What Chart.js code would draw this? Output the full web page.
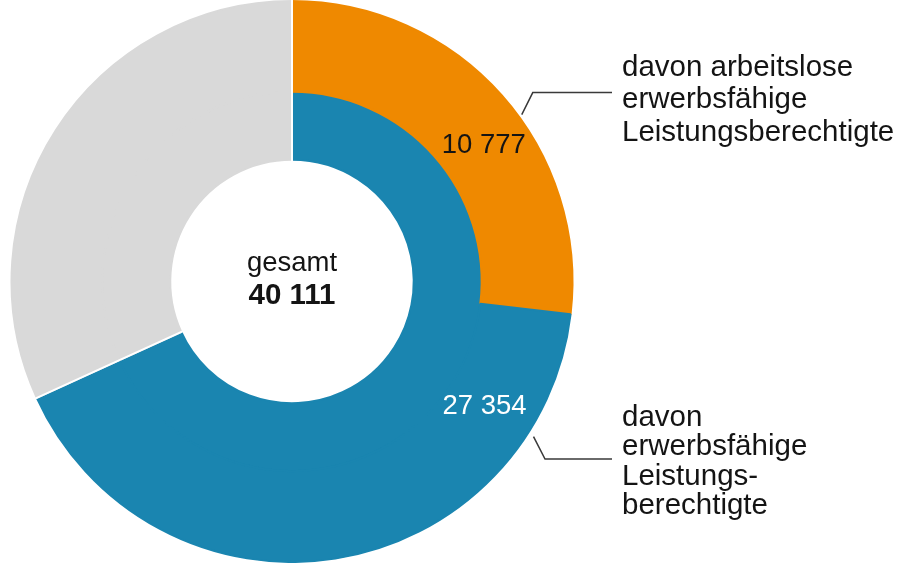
<!DOCTYPE html>
<html><head><meta charset="utf-8">
<script src="https://cdn.jsdelivr.net/npm/chart.js@4/dist/chart.umd.min.js"></script>
<style>html,body{margin:0;padding:0;background:#fff;overflow:hidden}canvas{display:block}</style>
</head><body>
<canvas id="c" width="897" height="563"></canvas>
<script>
// ---- data ----
const categories = ['davon arbeitslose erwerbsfähige Leistungsberechtigte', 'übrige erwerbsfähige Leistungsberechtigte', 'übrige'];
const totalValue = [40111];
const erwerbsfaehigeValue = [27354];
const arbeitsloseValue = [10777];
const outerValues = [arbeitsloseValue[0], erwerbsfaehigeValue[0] - arbeitsloseValue[0], totalValue[0] - erwerbsfaehigeValue[0]];
const innerValues = [erwerbsfaehigeValue[0], totalValue[0] - erwerbsfaehigeValue[0]];
const valueLabels = ['10 777', '27 354'];
const centerLabels = ['gesamt', '40 111'];
const annotationTop = ['davon arbeitslose', 'erwerbsfähige', 'Leistungsberechtigte'];
const annotationBottom = ['davon', 'erwerbsfähige', 'Leistungs-', 'berechtigte'];

// ---- styles ----
const ORANGE = '#EF8900', BLUE = '#1A85B0', GREY = '#D9D9D9';
const FONT = "'Liberation Sans', Arial, Helvetica, sans-serif";
const TEXT = '#141414';

function polar(cx, cy, r, deg) {
  const a = deg * Math.PI / 180;
  return [cx + r * Math.sin(a), cy - r * Math.cos(a)];
}

const overlay = {
  id: 'overlay',
  afterDatasetsDraw(chart) {
    const ctx = chart.ctx;
    const outer = chart.getDatasetMeta(0).data;
    const inner = chart.getDatasetMeta(1).data;
    const cx = outer[0].x, cy = outer[0].y;
    const R = outer[0].outerRadius, r0 = inner[0].innerRadius;
    const grey = outer[2];
    ctx.save();
    // white separators at the grey segment boundaries
    ctx.strokeStyle = '#ffffff';
    ctx.lineWidth = 2;
    [grey.startAngle, grey.endAngle].forEach(a => {
      ctx.beginPath();
      ctx.moveTo(cx + (r0 - 2) * Math.cos(a), cy + (r0 - 2) * Math.sin(a));
      ctx.lineTo(cx + (R + 3) * Math.cos(a), cy + (R + 3) * Math.sin(a));
      ctx.stroke();
    });

    // leader lines
    ctx.strokeStyle = '#3a3a3a';
    ctx.lineWidth = 1.5;
    let p = polar(cx, cy, R + 3.5, 54);
    ctx.beginPath();
    ctx.moveTo(p[0], p[1]);
    ctx.lineTo(p[0] + 11, p[1] - 22);
    ctx.lineTo(cx + 320, p[1] - 22);
    ctx.stroke();
    p = polar(cx, cy, R + 6.5, 122.7);
    ctx.beginPath();
    ctx.moveTo(p[0], p[1]);
    ctx.lineTo(p[0] + 11.5, p[1] + 22.5);
    ctx.lineTo(cx + 320, p[1] + 22.5);
    ctx.stroke();

    // value labels
    ctx.textAlign = 'center';
    ctx.textBaseline = 'alphabetic';
    ctx.font = '27.5px ' + FONT;
    ctx.fillStyle = TEXT;
    p = polar(cx, cy, 236.5, 54.2);
    ctx.fillText(valueLabels[0], p[0], p[1] + 9.5);
    ctx.fillStyle = '#ffffff';
    p = polar(cx, cy, 228.5, 122.6);
    ctx.fillText(valueLabels[1], p[0], p[1] + 9.5);

    // center labels
    ctx.fillStyle = TEXT;
    ctx.font = '27.5px ' + FONT;
    ctx.fillText(centerLabels[0], cx, cy - 11);
    ctx.font = 'bold 29.5px ' + FONT;
    ctx.fillText(centerLabels[1], cx, cy + 22);

    // annotations
    ctx.textAlign = 'left';
    ctx.font = '29.5px ' + FONT;
    const tx = cx + 330;
    annotationTop.forEach((t, i) => ctx.fillText(t, tx, cy - 206 + i * 32.5));
    annotationBottom.forEach((t, i) => ctx.fillText(t, tx, cy + 144 + i * 29.5));
    ctx.restore();
  }
};

new Chart(document.getElementById('c'), {
  type: 'doughnut',
  data: {
    labels: categories,
    datasets: [
      { data: outerValues, backgroundColor: [ORANGE, BLUE, GREY], borderColor: [ORANGE, BLUE, GREY], borderWidth: 2, weight: 91 },
      { data: innerValues, backgroundColor: [BLUE, GREY], borderColor: [BLUE, GREY], borderWidth: 2, weight: 68 }
    ]
  },
  options: {
    responsive: false,
    devicePixelRatio: 1,
    animation: false,
    cutout: '43.4%',
    layout: { padding: { left: 10, right: 323, top: 0, bottom: 0 } },
    plugins: { legend: { display: false }, tooltip: { enabled: false } }
  },
  plugins: [overlay]
});
</script>
</body></html>
